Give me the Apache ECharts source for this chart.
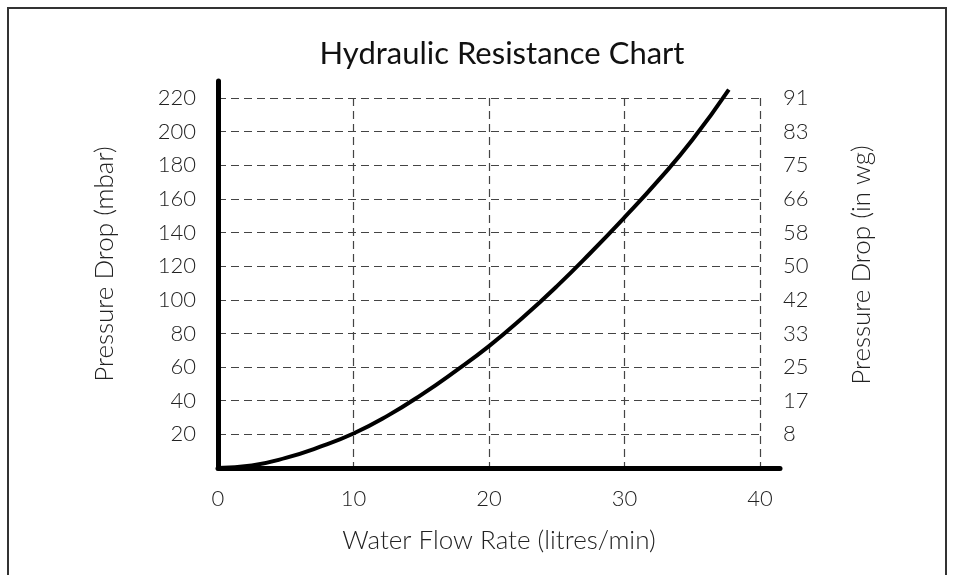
<!DOCTYPE html>
<html>
<head>
<meta charset="utf-8">
<script src="https://cdn.jsdelivr.net/npm/echarts@6/dist/echarts.min.js"></script>
<style>
  html, body { margin: 0; padding: 0; background: #fff; }
  #chart { width: 954px; height: 575px; }
</style>
</head>
<body>
<div id="chart"></div>
<script>
// values
var flowRate = [0, 2.5, 5, 7.5, 10, 12.5, 15, 17.5, 20, 22.5, 25, 27.5, 30, 32.5, 35, 37.7];
var pressureMbar = [0, 1.5, 6, 12.5, 20.5, 31, 43.5, 57.5, 72.5, 89.5, 108, 128, 149, 171, 195, 225];
var inWgLabels = ['', '8', '17', '25', '33', '42', '50', '58', '66', '75', '83', '91'];

var FONT = 'Lato';
var TXT = '#222';
var GRIDLINE = { type: [8, 5], color: '#444', width: 1.2 };

var chart = echarts.init(document.getElementById('chart'));

var option = {
  animation: false,
  backgroundColor: '#fff',
  title: {
    text: 'Hydraulic Resistance Chart',
    left: 497,
    top: 33,
    textAlign: 'center',
    textStyle: { fontFamily: FONT, fontSize: 31, fontWeight: 400, color: '#111' }
  },
  graphic: [
    {
      type: 'rect',
      shape: { x: 8, y: 8, width: 938, height: 600 },
      style: { fill: 'none', stroke: '#333', lineWidth: 2 }
    },
    {
      type: 'text',
      x: 105, y: 264, rotation: Math.PI / 2,
      style: {
        text: 'Pressure Drop (mbar)', fontFamily: FONT, fontSize: 26, fontWeight: 300,
        fill: TXT, textAlign: 'center', textVerticalAlign: 'middle'
      }
    },
    {
      type: 'text',
      x: 862, y: 265, rotation: Math.PI / 2,
      style: {
        text: 'Pressure Drop (in wg)', fontFamily: FONT, fontSize: 26, fontWeight: 300,
        fill: TXT, textAlign: 'center', textVerticalAlign: 'middle'
      }
    },
    {
      type: 'text',
      x: 499, y: 541,
      style: {
        text: 'Water Flow Rate (litres/min)', fontFamily: FONT, fontSize: 26, fontWeight: 300,
        fill: TXT, textAlign: 'center', textVerticalAlign: 'middle'
      }
    }
  ],
  grid: [
    // inner grid: 0-40 x 0-220, gridlines, labels, curve
    { left: 218, top: 98, width: 542, height: 370 },
    // outer grid: just the long thick axis lines
    { left: 218, top: 81, width: 562, height: 387 }
  ],
  xAxis: [
    {
      type: 'value', gridIndex: 0, min: 0, max: 40, interval: 10,
      axisLine: { show: false },
      axisTick: { show: false },
      axisLabel: { margin: 20, fontFamily: FONT, fontSize: 22, fontWeight: 300, color: TXT },
      splitLine: { show: true, lineStyle: GRIDLINE }
    },
    {
      type: 'value', gridIndex: 1, min: 0, max: 41.5,
      axisLine: { show: true, lineStyle: { color: '#000', width: 5 } },
      axisTick: { show: false },
      axisLabel: { show: false },
      splitLine: { show: false }
    }
  ],
  yAxis: [
    {
      type: 'value', gridIndex: 0, min: 0, max: 220, interval: 20,
      axisLine: { show: false },
      axisTick: { show: false },
      axisLabel: {
        margin: 22, fontFamily: FONT, fontSize: 22, fontWeight: 300, color: TXT,
        formatter: function (v) { return v === 0 ? '' : String(v); }
      },
      splitLine: { show: true, lineStyle: GRIDLINE }
    },
    {
      type: 'value', gridIndex: 0, position: 'right', min: 0, max: 220, interval: 20,
      axisLine: { show: false },
      axisTick: { show: false },
      axisLabel: {
        margin: 23, fontFamily: FONT, fontSize: 22, fontWeight: 300, color: TXT,
        formatter: function (v) { return inWgLabels[Math.round(v / 20)] || ''; }
      },
      splitLine: { show: false }
    },
    {
      type: 'value', gridIndex: 1, min: 0, max: 230,
      axisLine: { show: true, lineStyle: { color: '#000', width: 5 } },
      axisTick: { show: false },
      axisLabel: { show: false },
      splitLine: { show: false }
    }
  ],
  series: [
    {
      type: 'line',
      xAxisIndex: 0,
      yAxisIndex: 0,
      clip: false,
      smooth: 0.5,
      symbol: 'none',
      lineStyle: { color: '#000', width: 4 },
      data: flowRate.map(function (q, i) { return [q, pressureMbar[i]]; })
    }
  ]
};

chart.setOption(option);
</script>
</body>
</html>
